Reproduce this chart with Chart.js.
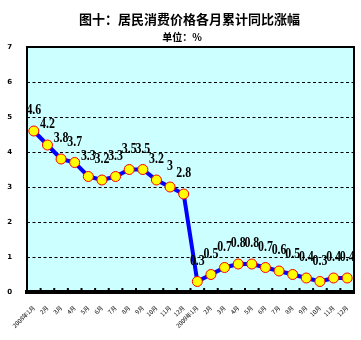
<!DOCTYPE html>
<html><head><meta charset="utf-8">
<script src="https://cdn.jsdelivr.net/npm/chart.js@4/dist/chart.umd.min.js"></script>
<style>html,body{margin:0;padding:0;background:#fff;}#wrap{width:361px;height:340px;}</style>
</head><body><div id="wrap"><canvas id="c" width="361" height="340"></canvas></div>
<script>
const categories = ["2008年1月","2月","3月","4月","5月","6月","7月","8月","9月","10月","11月","12月",
                    "2009年1月","2月","3月","4月","5月","6月","7月","8月","9月","10月","11月","12月"];
const cpiValues = [4.6,4.2,3.8,3.7,3.3,3.2,3.3,3.5,3.5,3.2,3,2.8,
                   0.3,0.5,0.7,0.8,0.8,0.7,0.6,0.5,0.4,0.3,0.4,0.4];
const yTicks = [0,1,2,3,4,5,6,7];
const titleText = "图十：居民消费价格各月累计同比涨幅";
const subtitleText = "单位：%";

const titles = {
  id: 'titles',
  afterDraw(chart) {
    const {ctx} = chart;
    ctx.save();
    ctx.fillStyle = '#000'; ctx.textAlign = 'center'; ctx.textBaseline = 'middle';
    ctx.font = 'bold 13px "Noto Sans CJK SC"';
    ctx.fillText(titleText, 189.5, 19.5);
    ctx.font = 'bold 10px "Noto Sans CJK SC"';
    ctx.fillText(subtitleText, 182, 37.5);
    ctx.restore();
  }
};
const frame = {
  id: 'frame',
  beforeDatasetsDraw(chart) {
    const {ctx, chartArea: a, scales} = chart;
    ctx.save();
    ctx.strokeStyle = '#000'; ctx.lineWidth = 1; ctx.setLineDash([3,2.5]);
    yTicks.forEach(v => {
      if (v === 0 || v === 7) return;
      const y = Math.round(scales.y.getPixelForValue(v)) + 0.5;
      ctx.beginPath(); ctx.moveTo(a.left, y); ctx.lineTo(a.right, y); ctx.stroke();
    });
    ctx.setLineDash([]);
    ctx.lineWidth = 2;
    ctx.beginPath();
    ctx.moveTo(a.left, a.bottom); ctx.lineTo(a.left, a.top); ctx.lineTo(a.right, a.top); ctx.lineTo(a.right, a.bottom);
    ctx.stroke();
    const x = scales.x;
    const step = x.getPixelForValue(1) - x.getPixelForValue(0);
    ctx.lineWidth = 2;
    for (let i = 0; i <= categories.length; i++) {
      const px = x.getPixelForValue(0) - step/2 + i*step;
      ctx.beginPath(); ctx.moveTo(px, a.bottom); ctx.lineTo(px, a.bottom - 4); ctx.stroke();
    }
    ctx.restore();
  },
  beforeDraw(chart) {
    const {ctx, chartArea: a} = chart;
    ctx.save(); ctx.fillStyle = '#CCFFFF';
    ctx.fillRect(a.left, a.top, a.right - a.left, a.bottom - a.top);
    ctx.restore();
  }
};
const valueLabels = {
  id: 'valueLabels',
  afterDatasetsDraw(chart) {
    const {ctx} = chart;
    const meta = chart.getDatasetMeta(0);
    ctx.save();
    ctx.font = 'bold 14px "Liberation Serif", serif';
    ctx.fillStyle = '#000'; ctx.textAlign = 'center'; ctx.textBaseline = 'alphabetic';
    meta.data.forEach((p, i) => {
      ctx.save();
      ctx.translate(p.x, p.y - 17);
      ctx.scale(0.85, 1);
      ctx.fillText(String(cpiValues[i]), 0, 0);
      ctx.restore();
    });
    ctx.restore();
  }
};

new Chart(document.getElementById('c'), {
  type: 'line',
  data: {
    labels: categories,
    datasets: [{
      data: cpiValues,
      borderColor: '#0000FF', borderWidth: 4,
      pointBackgroundColor: '#FFFF00', pointBorderColor: '#FF0000', pointBorderWidth: 1,
      pointRadius: 5, tension: 0, fill: false
    }]
  },
  options: {
    responsive: false, animation: false, devicePixelRatio: 1,
    layout: {padding: {left: 0, right: 7, top: 47, bottom: 0}},
    plugins: {legend: {display: false}, tooltip: {enabled: false}, title: {display: false}},
    scales: {
      x: {
        offset: true,
        grid: {display: false, offset: true},
        border: {display: true, color: '#000', width: 4},
        ticks: {minRotation: 45, maxRotation: 45, autoSkip: false, padding: 4, color: '#000',
          font: {family: '"Noto Sans CJK SC"', size: 6}},
        afterFit(s) { s.height = 48; }
      },
      y: {
        min: 0, max: 7,
        afterBuildTicks(s) { s.ticks = yTicks.map(v => ({value: v})); },
        grid: {display: false},
        border: {display: true, color: '#000', width: 2},
        ticks: {padding: 7, color: '#000', font: {family: '"DejaVu Sans"', size: 7, weight: 'bold'}},
        afterFit(s) { s.width = 27; }
      }
    }
  },
  plugins: [frame, valueLabels, titles]
});
</script></body></html>
